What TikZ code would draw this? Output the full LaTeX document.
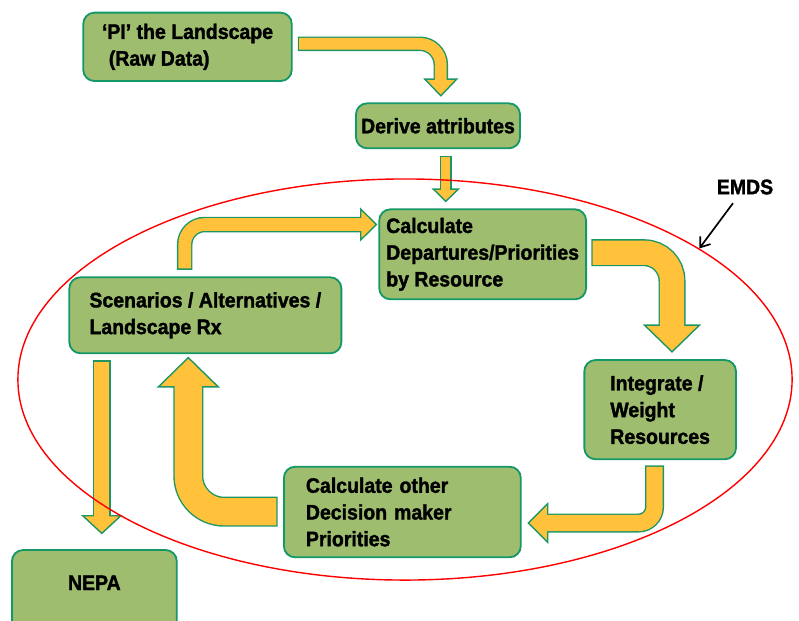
\documentclass[tikz,border=0pt]{standalone}
\usepackage{fontspec}
\setmainfont{Liberation Sans}[FakeStretch=0.93, BoldFeatures={FakeBold=1.6}]
\usepackage{tikz}
\usetikzlibrary{arrows.meta,positioning,calc,shapes.geometric}

\definecolor{boxfill}{RGB}{158,189,111}
\definecolor{boxedge}{RGB}{20,152,104}
\definecolor{arrowfill}{RGB}{255,194,58}
\definecolor{arrowedge}{RGB}{30,150,100}

\begin{document}
\begin{tikzpicture}[x=0.025cm, y=-0.025cm,
		box/.style={rectangle, rounded corners=0.28cm, draw=boxedge, fill=boxfill, line width=1.3pt, align=left, inner sep=3pt, font=\fontsize{14.9}{19}\selectfont\bfseries},
		bandout/.style={draw=arrowedge, line width=#1, shorten <=-1pt},
		bandin/.style={draw=arrowfill, line width=#1-2pt, shorten >=-2pt},
		arrhead/.style={draw=arrowedge, fill=arrowfill, line width=1pt, line join=miter}]
	\useasboundingbox (0,0) rectangle (799,620);
	\clip (0,0) rectangle (799,620);
	% boxes
	\node at (187.5,46.85) [box, minimum width=5.21cm, minimum height=1.71cm] (pi) {‘PI’ the Landscape\\\hspace*{0.33em}(Raw Data)};
	\node at (438,125.8) [box, align=center, minimum width=4.1cm, minimum height=1.125cm] (derive) {Derive attributes};
	\node at (482.65,254.3) [box, minimum width=5.17cm, minimum height=2.25cm] (calcdep) {Calculate\\Departures/Priorities\\by Resource};
	\node at (205.35,315.3) [box, minimum width=6.8cm, minimum height=1.9cm] (scen) {Scenarios / Alternatives /\\Landscape Rx};
	\node at (660.15,409.65) [box, minimum width=3.79cm, minimum height=2.48cm] (integ) {Integrate /\\Weight\\Resources};
	\node at (402.35,512) [box, text width=4.82cm, minimum width=5.92cm, minimum height=2.265cm] (calcoth) {Calculate other\\Decision maker\\Priorities};
	\node at (94.35,590) [box, anchor=base, align=center, minimum width=4.12cm, text height=1cm, text depth=1.25cm, inner ysep=0pt] (nepa) {NEPA};
	% block arrows
	\draw[bandout=0.3625cm, rounded corners=0.525cm] ($(pi.east)+(6.6,-3.1)$) -| ($(derive.north)+(2.8,-23.3)$);
	\draw[arrhead] ($(derive.north)+(2.8,-6.6)$) -- ++(-16,-16.7) -- ++(32,0) -- cycle;
	\draw[bandin=0.3625cm, rounded corners=0.525cm] ($(pi.east)+(6.6,-3.1)$) -| ($(derive.north)+(2.8,-23.3)$);

	\draw[bandout=0.3cm] ($(derive.south)+(7.8,7.7)$) -- ($(derive.south |- calcdep.north)+(7.8,-19.3)$);
	\draw[arrhead] ($(derive.south |- calcdep.north)+(7.8,-7)$) -- ++(-12.5,-12.3) -- ++(25,0) -- cycle;
	\draw[bandin=0.3cm] ($(derive.south)+(7.8,7.7)$) -- ($(derive.south |- calcdep.north)+(7.8,-19.3)$);

	\draw[bandout=0.3875cm, rounded corners=0.5cm] ($(scen.north)+(-20.65,-8)$) |- ($(calcdep.west)+(-17.6,-29.8)$);
	\draw[arrhead] ($(calcdep.west)+(-2,-29.8)$) -- ++(-15.6,-15.5) -- ++(0,31) -- cycle;
	\draw[bandin=0.3875cm, rounded corners=0.5cm] ($(scen.north)+(-20.65,-8)$) |- ($(calcdep.west)+(-17.6,-29.8)$);

	\draw[bandout=0.675cm, rounded corners=0.7cm] ($(calcdep.east)+(5.7,-1.6)$) -| ($(integ.north)+(11.85,-34)$);
	\draw[arrhead] ($(integ.north)+(11.85,-7.3)$) -- ++(-27.5,-26.7) -- ++(55,0) -- cycle;
	\draw[bandin=0.675cm, rounded corners=0.7cm] ($(calcdep.east)+(5.7,-1.6)$) -| ($(integ.north)+(11.85,-34)$);

	\draw[bandout=0.45cm] ($(scen.south -| nepa.north)+(7.45,7.4)$) -- ($(nepa.north)+(7.45,-33.3)$);
	\draw[arrhead] ($(nepa.north)+(7.45,-15.7)$) -- ++(-19,-17.6) -- ++(38,0) -- cycle;
	\draw[bandin=0.45cm] ($(scen.south -| nepa.north)+(7.45,7.4)$) -- ($(nepa.north)+(7.45,-33.3)$);

	\draw[bandout=0.75cm, rounded corners=0.9cm] ($(calcoth.west)+(-6.7,-0.3)$) -| ($(scen.south)+(-17.05,32.7)$);
	\draw[arrhead] ($(scen.south)+(-17.05,3.4)$) -- ++(-30,29.3) -- ++(60,0) -- cycle;
	\draw[bandin=0.75cm, rounded corners=0.9cm] ($(calcoth.west)+(-6.7,-0.3)$) -| ($(scen.south)+(-17.05,32.7)$);

	\draw[bandout=0.475cm, rounded corners=0.4cm] ($(integ.south)+(-5.65,6.7)$) |- ($(calcoth.east)+(26,11)$);
	\draw[arrhead] ($(calcoth.east)+(6.6,11)$) -- ++(19.4,-19.4) -- ++(0,38.8) -- cycle;
	\draw[bandin=0.475cm, rounded corners=0.4cm] ($(integ.south)+(-5.65,6.7)$) |- ($(calcoth.east)+(26,11)$);
	% EMDS
	\node at (405,379.5) [ellipse, draw=red, line width=1pt, minimum width=19.35cm, minimum height=10.025cm, inner sep=0pt] (emds) {};
	\node at (745,187) [font=\fontsize{14.9}{19}\selectfont\bfseries, inner sep=2pt] (emdslbl) {EMDS};
	\draw[-{Straight Barb[length=2.2mm, width=3.2mm]}, line width=1.2pt, shorten <=5pt] (emdslbl) -- (emds.24.7);
\end{tikzpicture}
\end{document}
